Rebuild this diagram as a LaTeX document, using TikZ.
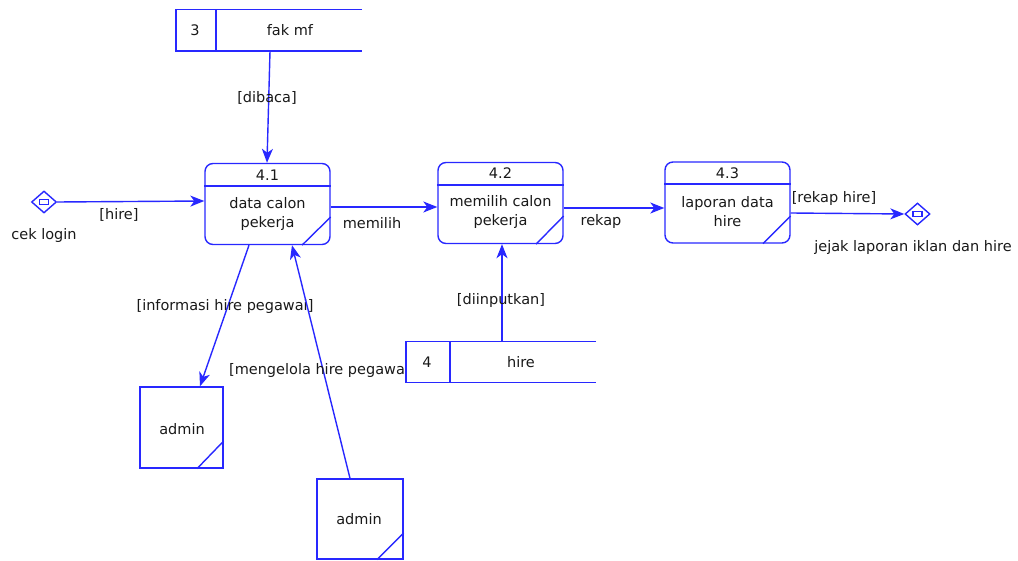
\documentclass[tikz,border=0pt]{standalone}
\usepackage{fontspec}
\setmainfont{DejaVu Sans}
\usetikzlibrary{shapes.geometric,arrows.meta}
\definecolor{dfd}{RGB}{40,40,255}
\definecolor{ink}{RGB}{25,25,25}
\tikzset{
  ln/.style={draw=dfd, line width=1.4pt},
  proc/.style={ln, rounded corners=8pt, minimum width=125pt, minimum height=81pt, inner sep=0pt},
  ent/.style={ln, minimum width=84pt, minimum height=81pt, inner sep=0pt},
  stor/.style={draw=none, inner sep=0pt},
  term/.style={ln, diamond, minimum width=25pt, minimum height=22pt, inner sep=0pt},
  txt/.style={text=ink, inner sep=1pt, font=\fontsize{14.5}{19}\selectfont, align=center},
  flow/.style={ln, -{Stealth[length=14pt,width=11pt,inset=4pt]}}
}
\begin{document}
\begin{tikzpicture}[x=1pt,y=-1pt]
\useasboundingbox (0,0) rectangle (1018,561);
% processes
\node[proc] (p1) at (267.5,204) {};
\node[proc] (p2) at (500.5,203) {};
\node[proc] (p3) at (727.5,202.5) {};
\foreach \p/\d in {p1/186,p2/185,p3/184}{
  \draw[ln] (\p.west |- 0,\d) -- (\p.east |- 0,\d);
}
\draw[ln] (p1.east |- 0,217) -- (p1.south -| 302,0);
\draw[ln] (p2.east |- 0,216) -- (p2.south -| 536,0);
\draw[ln] (p3.east |- 0,216) -- (p3.south -| 763,0);
\node[txt] (p1t) at (267.5,175) {4.1};
\node[txt] (p1b) at (267.5,214) {data calon\\pekerja};
\node[txt] (p2t) at (500.5,173.5) {4.2};
\node[txt] (p2b) at (500.5,212.5) {memilih calon\\pekerja};
\node[txt] (p3t) at (727.5,173) {4.3};
\node[txt] (p3b) at (727.5,212) {laporan data\\hire};
% stores
\node[stor, minimum width=186pt, minimum height=41.5pt] (s3) at (269,30.25) {};
\draw[ln] (s3.north east) -- (s3.north west) -- (s3.south west) -- (s3.south east);
\draw[ln] (s3.north -| 216,0) -- (s3.south -| 216,0);
\node[txt] (s3n) at (195,30) {3};
\node[txt] (s3l) at (290,30) {fak mf};
\node[stor, minimum width=190pt, minimum height=40.5pt] (s4) at (501,362.25) {};
\draw[ln] (s4.north east) -- (s4.north west) -- (s4.south west) -- (s4.south east);
\draw[ln] (s4.north -| 450,0) -- (s4.south -| 450,0);
\node[txt] (s4n) at (427,362) {4};
\node[txt] (s4l) at (521,362) {hire};
% entities
\node[ent, minimum width=83pt] (a1) at (181.5,427.5) {};
\draw[ln] (a1.east |- 0,441) -- (a1.south -| 197,0);
\node[txt] (a1l) at (182,429) {admin};
\node[ent, minimum width=86pt, minimum height=80pt] (a2) at (360,519) {};
\draw[ln] (a2.east |- 0,533) -- (a2.south -| 377,0);
\node[txt] (a2l) at (359,519) {admin};
% terminators
\node[term] (c1) at (44,202) {};
\node[ln, line width=1.2pt, minimum width=9pt, minimum height=5pt, inner sep=0pt] (c1i) at (44,202) {};
\node[txt] (c1l) at (44,236) {cek login};
\node[term] (c2) at (917.5,214) {};
\node[ln, line width=1.2pt, minimum width=9pt, minimum height=5pt, inner sep=0pt] (c2i) at (917.5,214) {};
\node[txt] (c2l) at (913,248) {jejak laporan iklan dan hire};
% flows
\draw[flow] (s3.south -| 270,0) -- (p1.north -| 267,0);
\node[txt] (l1) at (267,98) {[dibaca]};
\draw[flow] (c1.east) -- (p1.west |- 0,201);
\node[txt] (l2) at (119,215) {[hire]};
\draw[flow] (p1.east |- 0,207) -- (p2.west |- 0,207);
\node[txt] (l3) at (372,223) {memilih};
\draw[flow] (p2.east |- 0,208) -- (p3.west |- 0,208);
\node[txt] (l4) at (601,222) {rekap};
\draw[flow] (p3.east |- 0,213) -- (c2.west);
\node[txt] (l5) at (834,199) {[rekap hire]};
\draw[flow] (s4.north -| 502,0) -- (p2.south -| 502,0);
\node[txt] (l6) at (501,301) {[diinputkan]};
\draw[flow] (p1.south -| 249,0) -- (a1.north -| 200,0);
\node[txt] (l7) at (225,307) {[informasi hire pegawai]};
\draw[flow] (a2.north -| 350,0) -- (p1.south -| 292,0);
\node[txt] (l8) at (317,370) {[mengelola hire pegawa};
\end{tikzpicture}
\end{document}
